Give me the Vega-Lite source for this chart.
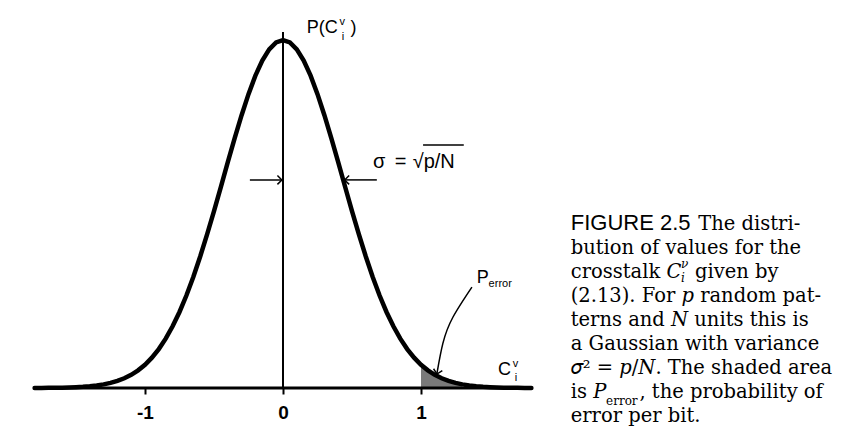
{
  "$schema": "https://vega.github.io/schema/vega-lite/v6.json",
  "width": 858,
  "height": 388,
  "autosize": {"type": "none"},
  "padding": {"left": 0, "top": 0, "right": 0, "bottom": 56},
  "background": "white",
  "config": {"view": {"stroke": null}},
  "datasets": {
    "curve": [
      {"x": -1.8, "y": 0.00016}, {"x": -1.75, "y": 0.00025}, {"x": -1.7, "y": 0.0004}, {"x": -1.65, "y": 0.00064},
      {"x": -1.6, "y": 0.00099}, {"x": -1.55, "y": 0.00151}, {"x": -1.5, "y": 0.00228}, {"x": -1.45, "y": 0.0034},
      {"x": -1.4, "y": 0.00499}, {"x": -1.35, "y": 0.00724}, {"x": -1.3, "y": 0.0104}, {"x": -1.25, "y": 0.0146},
      {"x": -1.2, "y": 0.0204}, {"x": -1.15, "y": 0.028}, {"x": -1.1, "y": 0.0379}, {"x": -1.05, "y": 0.0507},
      {"x": -1.0, "y": 0.0669}, {"x": -0.95, "y": 0.0871}, {"x": -0.9, "y": 0.1119}, {"x": -0.85, "y": 0.1417},
      {"x": -0.8, "y": 0.1772}, {"x": -0.75, "y": 0.2185}, {"x": -0.7, "y": 0.2658}, {"x": -0.65, "y": 0.319},
      {"x": -0.6, "y": 0.3778}, {"x": -0.55, "y": 0.4413}, {"x": -0.5, "y": 0.5086}, {"x": -0.45, "y": 0.5783},
      {"x": -0.4, "y": 0.6488}, {"x": -0.35, "y": 0.7181}, {"x": -0.3, "y": 0.784}, {"x": -0.25, "y": 0.8445},
      {"x": -0.2, "y": 0.8975}, {"x": -0.15, "y": 0.941}, {"x": -0.1, "y": 0.9733}, {"x": -0.05, "y": 0.9933},
      {"x": 0.0, "y": 1.0},
      {"x": 0.05, "y": 0.9933}, {"x": 0.1, "y": 0.9733}, {"x": 0.15, "y": 0.941}, {"x": 0.2, "y": 0.8975},
      {"x": 0.25, "y": 0.8445}, {"x": 0.3, "y": 0.784}, {"x": 0.35, "y": 0.7181}, {"x": 0.4, "y": 0.6488},
      {"x": 0.45, "y": 0.5783}, {"x": 0.5, "y": 0.5086}, {"x": 0.55, "y": 0.4413}, {"x": 0.6, "y": 0.3778},
      {"x": 0.65, "y": 0.319}, {"x": 0.7, "y": 0.2658}, {"x": 0.75, "y": 0.2185}, {"x": 0.8, "y": 0.1772},
      {"x": 0.85, "y": 0.1417}, {"x": 0.9, "y": 0.1119}, {"x": 0.95, "y": 0.0871}, {"x": 1.0, "y": 0.0669},
      {"x": 1.05, "y": 0.0507}, {"x": 1.1, "y": 0.0379}, {"x": 1.15, "y": 0.028}, {"x": 1.2, "y": 0.0204},
      {"x": 1.25, "y": 0.0146}, {"x": 1.3, "y": 0.0104}, {"x": 1.35, "y": 0.00724}, {"x": 1.4, "y": 0.00499},
      {"x": 1.45, "y": 0.0034}, {"x": 1.5, "y": 0.00228}, {"x": 1.55, "y": 0.00151}, {"x": 1.6, "y": 0.00099},
      {"x": 1.65, "y": 0.00064}, {"x": 1.7, "y": 0.0004}, {"x": 1.75, "y": 0.00025}, {"x": 1.8, "y": 0.00016}
    ],
    "shade": [
      {"x": 1.0, "y": 0.0669}, {"x": 1.05, "y": 0.0507}, {"x": 1.1, "y": 0.0379}, {"x": 1.15, "y": 0.028},
      {"x": 1.2, "y": 0.0204}, {"x": 1.25, "y": 0.0146}, {"x": 1.3, "y": 0.0104}
    ],
    "baseline": [{"x": -1.8, "x2": 1.78, "y": 0}],
    "vline": [{"x": 0, "y": 0, "y2": 1.023}],
    "shafts": [
      {"x": -0.24, "x2": -0.01, "y": 0.598},
      {"x": 0.68, "x2": 0.45, "y": 0.598},
      {"x": 1.015, "x2": 1.31, "y": 0.698}
    ],
    "headRight": [{"x": -0.008, "y": 0.598}],
    "headLeft": [{"x": 0.447, "y": 0.598}],
    "headDown": [{"x": 1.116, "y": 0.04}],
    "perrArrow": [
      {"x": 1.369, "y": 0.29}, {"x": 1.232, "y": 0.204}, {"x": 1.159, "y": 0.129}, {"x": 1.116, "y": 0.043}
    ],
    "labels": [
      {"t": "P(C", "x": 0.172, "y": 1.019},
      {"t": ")", "x": 0.49, "y": 1.019},
      {"t": "C", "x": 1.558, "y": 0.037},
      {"t": "P", "x": 1.404, "y": 0.302}
    ],
    "sigmaLabel": [
      {"t": "σ", "x": 0.653, "y": 0.632},
      {"t": "=", "x": 0.81, "y": 0.632},
      {"t": "√p/N", "x": 0.94, "y": 0.632}
    ],
    "smallLabels": [
      {"t": "v", "x": 0.41, "y": 1.043},
      {"t": "i", "x": 0.425, "y": 1.0},
      {"t": "v", "x": 1.665, "y": 0.06},
      {"t": "i", "x": 1.68, "y": 0.02},
      {"t": "error", "x": 1.49, "y": 0.29}
    ],
    "figLabel": [{"t": "FIGURE 2.5", "x": 2.085, "y": 0.454}],
    "capRoman": [
      {"t": "The distri-", "x": 3.009, "y": 0.454},
      {"t": "bution of values for the", "x": 2.085, "y": 0.385},
      {"t": "crosstalk 𝐶\u2002\u2009given by", "x": 2.085, "y": 0.316},
      {"t": "(2.13). For 𝑝 random pat-", "x": 2.085, "y": 0.247},
      {"t": "terns and 𝑁 units this is", "x": 2.085, "y": 0.178},
      {"t": "a Gaussian with variance", "x": 2.085, "y": 0.109},
      {"t": "𝜎² = 𝑝/𝑁. The shaded area", "x": 2.085, "y": 0.04},
      {"t": "is 𝑃\u2003\u2002\u2009, the probability of", "x": 2.085, "y": -0.029},
      {"t": "error per bit.", "x": 2.085, "y": -0.098}
    ],
    "capSmallItalic": [
      {"t": "ν", "x": 2.884, "y": 0.345},
      {"t": "i", "x": 2.884, "y": 0.306}
    ],
    "capSmallRoman": [
      {"t": "error", "x": 2.341, "y": -0.048}
    ]
  },
  "encoding": {
    "x": {
      "field": "x", "type": "quantitative",
      "scale": {"domain": [-2.0507, 4.1667], "nice": false, "zero": false},
      "axis": {
        "values": [-1, 0, 1], "domain": false, "grid": false, "title": null,
        "tickSize": 6, "tickWidth": 2, "tickColor": "black",
        "labelFont": "Liberation Sans", "labelFontSize": 19, "labelFontWeight": "bold",
        "labelColor": "black", "labelPadding": 9,
        "labelExpr": "replace(datum.label, '−', '-')"
      }
    },
    "y": {
      "field": "y", "type": "quantitative",
      "scale": {"domain": [0, 1.115], "nice": false, "zero": false},
      "axis": null
    }
  },
  "layer": [
    {"data": {"name": "shade"}, "mark": {"type": "area", "color": "#7a7a7a"}},
    {"data": {"name": "baseline"}, "mark": {"type": "rule", "color": "black", "strokeWidth": 3}, "encoding": {"x2": {"field": "x2"}}},
    {"data": {"name": "curve"}, "mark": {"type": "line", "color": "black", "strokeWidth": 4.5, "strokeCap": "round"}},
    {"data": {"name": "vline"}, "mark": {"type": "rule", "color": "black", "strokeWidth": 2}, "encoding": {"y2": {"field": "y2"}}},
    {"data": {"name": "shafts"}, "mark": {"type": "rule", "color": "black", "strokeWidth": 1.5}, "encoding": {"x2": {"field": "x2"}}},
    {"data": {"name": "headRight"}, "mark": {"type": "point", "shape": "M-1,-1L0,0L-1,1", "filled": false, "stroke": "black", "strokeWidth": 1.5, "size": 80, "opacity": 1}},
    {"data": {"name": "headLeft"}, "mark": {"type": "point", "shape": "M1,-1L0,0L1,1", "filled": false, "stroke": "black", "strokeWidth": 1.5, "size": 80, "opacity": 1}},
    {"data": {"name": "headDown"}, "mark": {"type": "point", "shape": "M-1,-1L0,0L1,-1", "angle": 12, "filled": false, "stroke": "black", "strokeWidth": 1.5, "size": 80, "opacity": 1}},
    {"data": {"name": "perrArrow"}, "mark": {"type": "line", "color": "black", "strokeWidth": 1.5, "interpolate": "natural"}, "encoding": {"order": {"field": "y", "type": "quantitative", "sort": "descending"}}},
    {"data": {"name": "labels"}, "mark": {"type": "text", "font": "Liberation Sans", "fontSize": 18, "align": "left", "baseline": "alphabetic", "color": "black"}, "encoding": {"text": {"field": "t"}}},
    {"data": {"name": "sigmaLabel"}, "mark": {"type": "text", "font": "Liberation Sans", "fontSize": 20, "align": "left", "baseline": "alphabetic", "color": "black"}, "encoding": {"text": {"field": "t"}}},
    {"data": {"name": "smallLabels"}, "mark": {"type": "text", "font": "Liberation Sans", "fontSize": 11, "align": "left", "baseline": "alphabetic", "color": "black"}, "encoding": {"text": {"field": "t"}}},
    {"data": {"name": "figLabel"}, "mark": {"type": "text", "font": "Liberation Sans", "fontSize": 22, "align": "left", "baseline": "alphabetic", "color": "black"}, "encoding": {"text": {"field": "t"}}},
    {"data": {"name": "capRoman"}, "mark": {"type": "text", "font": "DejaVu Serif", "fontSize": 19.5, "align": "left", "baseline": "alphabetic", "color": "black"}, "encoding": {"text": {"field": "t"}}},
    {"data": {"name": "capSmallItalic"}, "mark": {"type": "text", "font": "DejaVu Serif", "fontStyle": "italic", "fontSize": 12, "align": "left", "baseline": "alphabetic", "color": "black"}, "encoding": {"text": {"field": "t"}}},
    {"data": {"name": "capSmallRoman"}, "mark": {"type": "text", "font": "DejaVu Serif", "fontSize": 12, "align": "left", "baseline": "alphabetic", "color": "black"}, "encoding": {"text": {"field": "t"}}}
  ]
}
